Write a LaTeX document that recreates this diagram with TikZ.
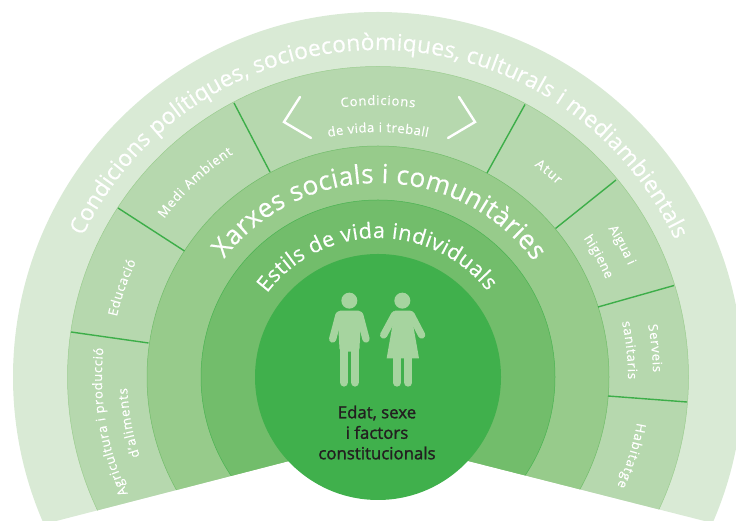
\documentclass[tikz,border=0pt]{standalone}
\usepackage{fontspec}
\setmainfont[FakeBold=0.4]{Open Sans}
\newfontfamily\corefont[FakeBold=1.5]{Open Sans}
\usetikzlibrary{decorations.text}
\definecolor{ringA}{HTML}{D9EAD5}
\definecolor{ringB}{HTML}{B6D8AE}
\definecolor{ringC}{HTML}{97CB8B}
\definecolor{ringD}{HTML}{72BD6B}
\definecolor{core}{HTML}{40B04C}
\definecolor{sep}{HTML}{3DAE49}
\definecolor{figcol}{HTML}{A6D49F}
\definecolor{inkdark}{HTML}{231F20}
\tikzset{
  x=1pt,y=1pt,
  ringedge/.style={draw=#1,line width=.5pt},
  sepline/.style={draw=sep,line width=1.4pt},
  chev/.style={draw=white,line width=2.4pt,line cap=round,line join=miter},
  limb/.style={draw=figcol,line cap=round,line width=#1},
}
% radius, start angle, end angle, font size, text
\newcommand{\arclabel}[5]{%
  \path[decorate,decoration={text along path,text align={fit to path},
    text={|\fontsize{#4}{#4}\selectfont\color{white}|#5}}]
    (c) ++(#2:#1) arc[start angle=#2,end angle=#3,radius=#1pt];}
\begin{document}
\begin{tikzpicture}
\useasboundingbox (0,0) rectangle (736,521);
\coordinate (c) at (378,144);
\begin{scope}
  \clip (0,0) rectangle (736,521);
  \clip (378,83) -- (0,-14.5) -- (0,530) -- (736,530) -- (736,-8) -- cycle;
  \fill[ringA] (c) circle[radius=365];
  \path[fill=ringB,ringedge=ringC!85!ringB] (c) circle[radius=310.5];
  \path[fill=ringC,ringedge=ringD] (c) circle[radius=231];
  \path[fill=ringD,ringedge=core!80!ringD] (c) circle[radius=177];
\end{scope}
\fill[core] (c) circle[radius=123];
% separators
\coordinate (s1a) at (71,189); \coordinate (s1b) at (148.5,178);
\coordinate (s2a) at (118,313); \coordinate (s2b) at (184.5,270);
\coordinate (s3a) at (234,418); \coordinate (s3b) at (270,349);
\coordinate (s4a) at (525,416.5); \coordinate (s4b) at (487,348);
\coordinate (s5a) at (616,341); \coordinate (s5b) at (555.5,292.5);
\coordinate (s6a) at (674,235.5); \coordinate (s6b) at (598,214);
\coordinate (s7a) at (687,119); \coordinate (s7b) at (608,125);
\draw[sepline] (s1a) -- (s1b);
\draw[sepline] (s2a) -- (s2b);
\draw[sepline] (s3a) -- (s3b);
\draw[sepline] (s4a) -- (s4b);
\draw[sepline] (s5a) -- (s5b);
\draw[sepline] (s6a) -- (s6b);
\draw[sepline] (s7a) -- (s7b);
% chevrons
\draw[chev] (300,424) -- (284,399) -- (311,383);
\draw[chev] (459,424) -- (475,399) -- (448,383);
% arc labels
\arclabel{327}{154.5}{24.8}{22.8}{Condicions polítiques, socioeconòmiques, culturals i mediambientals}
\arclabel{194}{142.5}{36.5}{26.3}{Xarxes socials i comunitàries}
\arclabel{139}{143}{38}{21.6}{Estils de vida individuals}
\arclabel{272}{7.8+90}{90-7.8}{13}{Condicions}
\arclabel{245}{11.7+90}{90-11.7}{13}{de vida i treball}
\arclabel{266}{143.5}{123}{13}{Medi Ambient}
\arclabel{268}{167}{154.5}{13}{Educació}
\arclabel{276}{205}{174}{13}{Agricultura i producció}
\arclabel{251}{198.4}{182.5}{13}{d'aliments}
\arclabel{263}{53.5}{47}{13}{Atur}
\arclabel{274}{32.8}{24}{13}{Aigua i}
\arclabel{248}{34}{23.2}{13}{higiene}
\arclabel{275}{10.9}{1}{13}{Serveis}
\arclabel{250}{12.7}{-0.5}{13}{sanitaris}
\arclabel{263}{-10}{-24.5}{13}{Habitatge}
% figures
\begin{scope}[shift={(300,241)},x=.3333pt,y=-.3333pt]
  \fill[figcol] (148,62) circle[radius=24];
  \fill[figcol,rounded corners=3pt] (112,92) -- (184,92) -- (178,215) -- (119,215) -- cycle;
  \draw[limb=7.3pt] (117,105) -- (98,177);
  \draw[limb=7.3pt] (179,105) -- (198,177);
  \draw[limb=8.6pt] (132,205) -- (132,307);
  \draw[limb=8.6pt] (165,205) -- (165,307);
  \fill[figcol] (307,62) circle[radius=24];
  \fill[figcol] (285,92) -- (332,92) -- (357,235) -- (260,235) -- cycle;
  \draw[limb=7.3pt] (284,104) -- (251,165);
  \draw[limb=7.3pt] (333,104) -- (365,165);
  \draw[limb=8pt] (291,230) -- (291,308);
  \draw[limb=8pt] (325,230) -- (325,308);
\end{scope}
\node[text=inkdark,align=center,font=\corefont\fontsize{16.8}{20.5}\selectfont,anchor=center,inner sep=0pt] (age) at (377,88.5) {Edat, sexe\\i factors\\constitucionals};
\end{tikzpicture}
\end{document}
